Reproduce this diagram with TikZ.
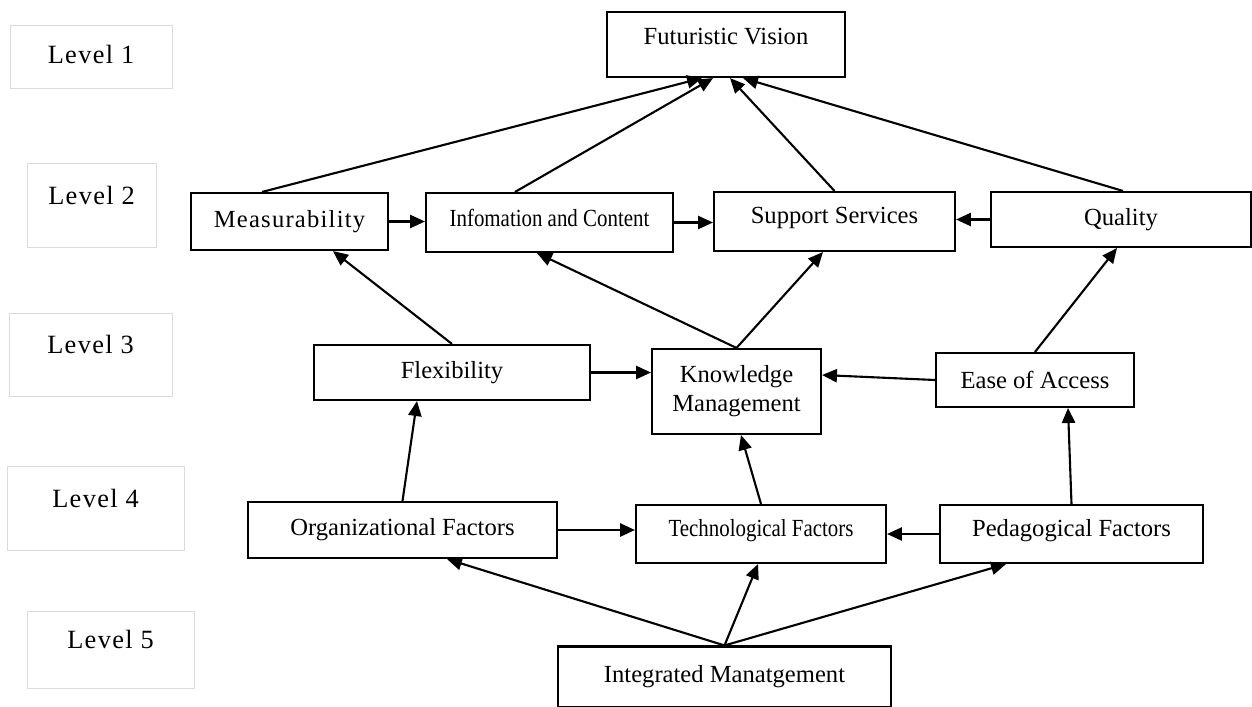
\documentclass[tikz,border=0pt]{standalone}
\usepackage{fontspec}
\setmainfont{Liberation Serif}
\newfontfamily\narrowfont[FakeStretch=0.85]{Liberation Serif}
\newfontfamily\spacedfont[LetterSpace=5]{Liberation Serif}
\usetikzlibrary{arrows.meta}

\begin{document}
\begin{tikzpicture}[x=0.02cm,y=-0.02cm,
		box/.style={draw,line width=1.2pt,inner sep=0pt,align=center,font=\fontsize{14}{16.5}\selectfont},
		lvl/.style={draw=gray!28,line width=0.5pt,inner sep=0pt,text depth=11pt,font=\spacedfont\fontsize{15}{18}\selectfont},
		arr/.style={line width=1.2pt,-{Triangle[length=8.5pt,width=7.5pt]}}]
			\useasboundingbox (0,0) rectangle (1252,707);
			
			\node[lvl,minimum width=3.24cm,minimum height=1.26cm,text depth=2pt] (lone) at (91,56.5) {Level 1};
			\node[lvl,minimum width=2.58cm,minimum height=1.68cm] (ltwo) at (91.5,205) {Level 2};
			\node[lvl,minimum width=3.26cm,minimum height=1.66cm] (lthree) at (90.5,354.5) {Level 3};
			\node[lvl,minimum width=3.54cm,minimum height=1.68cm] (lfour) at (95.5,508) {Level 4};
			\node[lvl,minimum width=3.34cm,minimum height=1.54cm] (lfive) at (110.5,649.5) {Level 5};
			
			\node[box,minimum width=4.76cm,minimum height=1.3cm,text depth=9pt] (fv) at (726,44.5) {Futuristic Vision};
			\node[box,minimum width=3.94cm,minimum height=1.14cm,font=\spacedfont\fontsize{14}{16.5}\selectfont] (meas) at (289.5,221.5) {Measurability};
			\node[box,minimum width=4.94cm,minimum height=1.18cm,text depth=5pt,font=\narrowfont\fontsize{14}{16.5}\selectfont] (info) at (549.5,222.5) {Infomation and Content};
			\node[box,minimum width=4.82cm,minimum height=1.18cm,text depth=7pt] (supp) at (834.5,221.5) {Support Services};
			\node[box,minimum width=5.2cm,minimum height=1.1cm] (qual) at (1121,219.5) {Quality};
			\node[box,minimum width=5.52cm,minimum height=1.1cm] (flex) at (452,372.5) {Flexibility};
			\node[box,minimum width=3.38cm,minimum height=1.7cm] (know) at (736.5,391.5) {Knowledge\\Management};
			\node[box,minimum width=3.96cm,minimum height=1.08cm] (ease) at (1035,380) {Ease of Access};
			\node[box,minimum width=6.18cm,minimum height=1.12cm] (org) at (402.5,530) {Organizational Factors};
			\node[box,minimum width=5cm,minimum height=1.16cm,text depth=7pt,font=\narrowfont\fontsize{14}{16.5}\selectfont] (tech) at (761,534) {Technological Factors};
			\node[box,minimum width=5.26cm,minimum height=1.16cm,text depth=7pt] (ped) at (1071.5,534) {Pedagogical Factors};
			\node[box,minimum width=6.66cm,minimum height=1.22cm] (integ) at (724.5,677) {Integrated Manatgement};
			
			\draw[arr] ([xshift=-0.55cm]meas.north) -- ([xshift=-0.48cm]fv.south);
			\draw[arr] ([xshift=-0.69cm]info.north) -- ([xshift=-0.26cm]fv.south);
			\draw[arr] (supp.north) -- ([xshift=0.08cm]fv.south);
			\draw[arr] ([xshift=0.04cm]qual.north) -- ([xshift=0.34cm]fv.south);
			\draw[arr] (meas.east) -- (meas.east -| info.west);
			\draw[arr] (info.east) -- (info.east -| supp.west);
			\draw[arr] (qual.west) -- (qual.west -| supp.east);
			
			\draw[arr] (flex.north) -- ([xshift=0.87cm]meas.south);
			\draw[arr] (know.north) -- ([xshift=-0.25cm]info.south);
			\draw[arr] (know.north) -- ([xshift=-0.23cm]supp.south);
			\draw[arr] (ease.north) -- ([xshift=-0.08cm]qual.south);
			\draw[arr] (flex.east) -- (flex.east -| know.west);
			\draw[arr] (ease.west) -- ([yshift=0.33cm]know.east);
			
			\draw[arr] (org.north) -- ([xshift=-0.7cm]flex.south);
			\draw[arr] (tech.north) -- ([xshift=0.09cm]know.south);
			\draw[arr] (ped.north) -- ([xshift=0.66cm]ease.south);
			\draw[arr] (org.east) -- (org.east -| tech.west);
			\draw[arr] (ped.west) -- (ped.west -| tech.east);
			
			\draw[arr] (integ.north) -- ([xshift=0.89cm]org.south);
			\draw[arr] (integ.north) -- ([xshift=-0.06cm]tech.south);
			\draw[arr] (integ.north) -- ([xshift=-1.31cm]ped.south);
		\end{tikzpicture}
\end{document}
